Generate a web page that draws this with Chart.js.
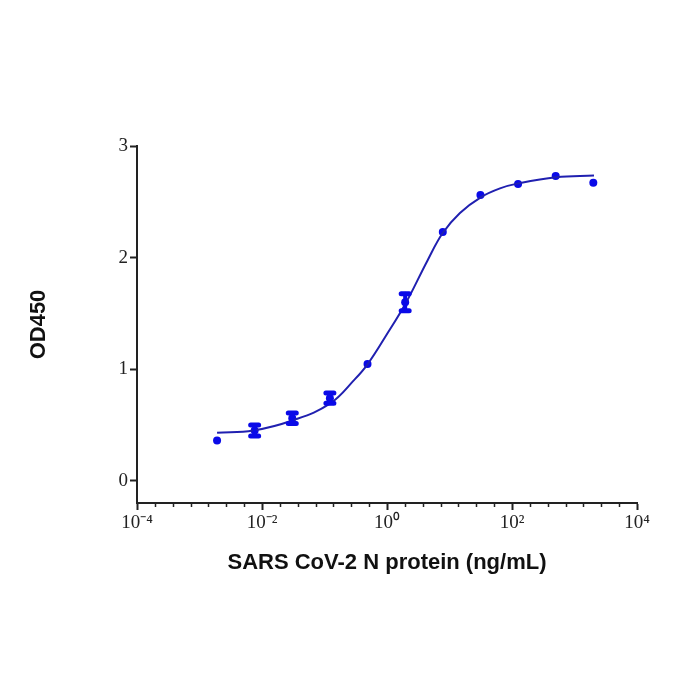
<!DOCTYPE html>
<html><head><meta charset="utf-8">
<script src="https://cdn.jsdelivr.net/npm/chart.js@4/dist/chart.umd.min.js"></script>
<style>html,body{margin:0;padding:0;background:#fff}</style>
</head><body>
<canvas id="c" width="700" height="700"></canvas>
<script>
// Measured points (4-fold dilution series, ng/mL)
const concentrations = [0.00191, 0.00763, 0.0305, 0.122, 0.488, 1.953, 7.8125, 31.25, 125, 500, 2000];
const odMeans = [0.36, 0.45, 0.56, 0.74, 1.045, 1.60, 2.23, 2.56, 2.66, 2.73, 2.67];
const odErrors = [0, 0.05, 0.047, 0.045, 0, 0.076, 0, 0, 0, 0, 0];
// Fitted curve
const curveX = [0.00191, 0.00727, 0.0306, 0.122, 0.307, 0.491, 0.99, 1.99, 4.41, 7.79, 14.7, 31.6, 64.3, 126, 506, 2050];
const curveY = [0.43, 0.45, 0.54, 0.69, 0.91, 1.045, 1.31, 1.59, 1.97, 2.22, 2.40, 2.54, 2.62, 2.665, 2.72, 2.735];
// Ticks
const xMajorTicks = [1e-4, 1e-2, 1, 1e2, 1e4];
const xTickLabels = ['10⁻⁴', '10⁻²', '10⁰', '10²', '10⁴'];
const xMinorPerMajor = 7;
const yTicks = [0, 1, 2, 3];
const yTickLabels = ['0', '1', '2', '3'];

const pointColor = '#0a0ae8';
const curveColor = '#2020b0';
const axisColor = '#222222';

const errorBars = {
  id: 'errorBars',
  afterDatasetsDraw(chart) {
    const ctx = chart.ctx, xs = chart.scales.x, ys = chart.scales.y;
    ctx.save();
    ctx.strokeStyle = pointColor;
    ctx.lineCap = 'round';
    concentrations.forEach((c, i) => {
      const e = odErrors[i];
      if (!e) return;
      const px = xs.getPixelForValue(c);
      const top = ys.getPixelForValue(odMeans[i] + e);
      const bot = ys.getPixelForValue(odMeans[i] - e);
      ctx.lineWidth = 4;
      ctx.beginPath(); ctx.moveTo(px, top); ctx.lineTo(px, bot); ctx.stroke();
      ctx.lineWidth = 5;
      ctx.beginPath();
      ctx.moveTo(px - 4, top); ctx.lineTo(px + 4, top);
      ctx.moveTo(px - 4, bot); ctx.lineTo(px + 4, bot);
      ctx.stroke();
    });
    ctx.restore();
  }
};

const minorTicks = {
  id: 'minorTicks',
  afterDraw(chart) {
    const ctx = chart.ctx, xs = chart.scales.x, bottom = chart.chartArea.bottom;
    ctx.save();
    ctx.strokeStyle = axisColor;
    ctx.lineWidth = 1.5;
    for (let m = 0; m < xMajorTicks.length - 1; m++) {
      const a = Math.log10(xMajorTicks[m]), b = Math.log10(xMajorTicks[m + 1]);
      for (let k = 1; k < xMinorPerMajor; k++) {
        const v = Math.pow(10, a + (b - a) * k / xMinorPerMajor);
        const px = Math.round(xs.getPixelForValue(v)) + 0.5;
        ctx.beginPath(); ctx.moveTo(px, bottom); ctx.lineTo(px, bottom + 4); ctx.stroke();
      }
    }
    ctx.restore();
  }
};

new Chart(document.getElementById('c'), {
  data: {
    datasets: [
      {
        type: 'line',
        data: curveX.map((x, i) => ({ x, y: curveY[i] })),
        borderColor: curveColor,
        borderWidth: 2,
        pointRadius: 0,
        tension: 0.4,
        fill: false
      },
      {
        type: 'scatter',
        data: concentrations.map((x, i) => ({ x, y: odMeans[i] })),
        backgroundColor: pointColor,
        borderColor: pointColor,
        pointRadius: 4,
        borderWidth: 0
      }
    ]
  },
  options: {
    responsive: false,
    animation: false,
    devicePixelRatio: 1,
    layout: { padding: { top: 146, right: 63, left: 0, bottom: 0 } },
    plugins: { legend: { display: false }, tooltip: { enabled: false } },
    scales: {
      x: {
        type: 'logarithmic',
        position: 'bottom',
        min: 1e-4, max: 1e4,
        afterBuildTicks: s => { s.ticks = xMajorTicks.map(v => ({ value: v })); },
        afterFit: s => { s.height = 197; },
        border: { color: axisColor, width: 2 },
        grid: { drawOnChartArea: false, drawTicks: true, tickLength: 7, tickColor: axisColor, tickWidth: 2 },
        ticks: {
          autoSkip: false, maxRotation: 0, padding: 2,
          color: axisColor,
          font: { family: '"Liberation Serif", "Times New Roman", serif', size: 19 },
          callback: (v) => { const i = xMajorTicks.indexOf(v); return i >= 0 ? xTickLabels[i] : ''; }
        },
        title: {
          display: true,
          text: 'SARS CoV-2 N protein (ng/mL)',
          color: '#111',
          font: { family: '"Liberation Sans", Arial, sans-serif', size: 22, weight: 'bold' },
          padding: { top: 0, bottom: 124 }
        }
      },
      y: {
        type: 'linear',
        min: -0.2, max: 3,
        afterBuildTicks: s => { s.ticks = yTicks.map(v => ({ value: v })); },
        afterFit: s => { s.width = 137; },
        border: { color: axisColor, width: 2 },
        grid: { drawOnChartArea: false, drawTicks: true, tickLength: 7, tickColor: axisColor, tickWidth: 2 },
        ticks: {
          padding: 2,
          color: axisColor,
          font: { family: '"Liberation Serif", "Times New Roman", serif', size: 19 },
          callback: (v) => { const i = yTicks.indexOf(v); return i >= 0 ? yTickLabels[i] : ''; }
        },
        title: {
          display: true,
          text: 'OD450',
          color: '#111',
          font: { family: '"Liberation Sans", Arial, sans-serif', size: 22, weight: 'bold' },
          padding: { top: 26, bottom: 0 }
        }
      }
    }
  },
  plugins: [errorBars, minorTicks]
});
</script>
</body></html>
